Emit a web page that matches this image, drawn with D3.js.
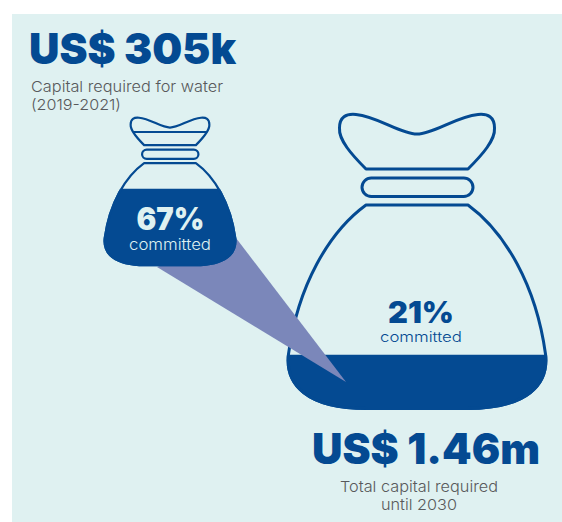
<!DOCTYPE html>
<html lang="en">
<head>
<meta charset="utf-8">
<script src="https://d3js.org/d3.v7.min.js"></script>
<style>
  html, body { margin: 0; padding: 0; background: #fff; }
  svg { display: block; }
  text { font-family: Inter, Roboto, sans-serif; }
</style>
</head>
<body>
<script>
  // values
  const bags = ["water", "total"];
  const amounts = ["US$ 305k", "US$ 1.46m"];
  const committed = ["67%", "21%"];
  const committedLabel = "committed";
  const fillShare = [0.75, 0.27];   // share of the bag body height that is filled
  const captions = [["Capital required for water", "(2019-2021)"], ["Total capital required", "until 2030"]];

  const width = 562, height = 522;
  const blue = "#044a92", wedge = "#7b87ba", panel = "#dff1f1", grey = "#58595b";

  const svg = d3.select("body").append("svg").attr("width", width).attr("height", height);
  svg.append("rect").attr("x", 12).attr("y", 14).attr("width", 550).attr("height", 508).attr("fill", panel);

  // bag outline is drawn once in its own units, each bag maps it with two scales
  const mid = 417;
  const placeX = {
    water: d3.scaleLinear().domain([287, 547]).range([104, 236]),
    total: d3.scaleLinear().domain([287, 547]).range([287, 547])
  };
  const placeY = {
    water: d3.scaleLinear().domain([113, 410]).range([117, 266]),
    total: d3.scaleLinear().domain([113, 410]).range([113, 410])
  };

  // left half beziers, the right half is the mirror
  const earsLeft = [[366,169],[352,155,338.5,140,339.5,128],[339.5,117,346,113.5,356,114.5],[378,116.5,400,134,417,134]];
  const bodyLeft = [[366,205],[329,232,298,285,288.5,354],[285,384,306,408.5,367,408.5],[384,408.5,400,408.5,417,408.5]];

  function halves(left, name) {
    const x = v => placeX[name](v), y = v => placeY[name](v);
    const path = d3.path();
    path.moveTo(x(left[0][0]), y(left[0][1]));
    left.slice(1).forEach(c => path.bezierCurveTo(x(c[0]), y(c[1]), x(c[2]), y(c[3]), x(c[4]), y(c[5])));
    // walk back along the mirror
    for (let i = left.length - 1; i > 0; i--) {
      const c = left[i], prev = left[i - 1];
      const end = prev.length == 2 ? prev : prev.slice(4);
      const m = v => 2 * mid - v;
      path.bezierCurveTo(x(m(c[2])), y(c[3]), x(m(c[0])), y(c[1]), x(m(end[0])), y(end[1]));
    }
    path.closePath();
    return path.toString();
  }

  function drawBag(name, i, sw) {
    const x = placeX[name], y = placeY[name];
    const g = svg.append("g").attr("class", "bag-" + name);
    const body = halves(bodyLeft, name);
    const level = d3.scaleLinear().domain([0, 1]).range([y(410), y(205)]);

    g.append("path").attr("d", body).attr("fill", "none")
      .attr("stroke", blue).attr("stroke-width", sw).attr("stroke-linejoin", "round");
    svg.append("clipPath").attr("id", "clip-" + name).append("rect")
      .attr("x", 0).attr("width", width)
      .attr("y", level(fillShare[i])).attr("height", level(0) - level(fillShare[i]) + 2);
    g.append("path").attr("d", body).attr("fill", blue).attr("stroke", blue).attr("stroke-width", sw)
      .attr("clip-path", "url(#clip-" + name + ")");

    g.append("path").attr("d", halves(earsLeft, name)).attr("fill", "none")
      .attr("stroke", blue).attr("stroke-width", sw).attr("stroke-linejoin", "round");
    g.append("rect")
      .attr("x", x(362)).attr("width", x(473) - x(362))
      .attr("y", y(178)).attr("height", y(196.5) - y(178))
      .attr("rx", y(196.5) / 2 - y(178) / 2)
      .attr("fill", "none").attr("stroke", blue).attr("stroke-width", sw);
    return g;
  }

  // big bag first, wedge goes over it and under the small bag
  drawBag("total", 1, 3);
  svg.append("polygon").attr("points", [[236, 238], [346, 382], [157, 267]].join(" ")).attr("fill", wedge);
  const small = drawBag("water", 0, 2.2);
  small.append("line")
    .attr("x1", 134).attr("x2", 207).attr("y1", 132).attr("y2", 132)
    .attr("stroke", blue).attr("stroke-width", 2);

  function label(str, x, y, size, weight, color, anchor, fit) {
    const t = svg.append("text").attr("x", x).attr("y", y).text(str)
      .attr("font-size", size).attr("font-weight", weight).attr("fill", color)
      .attr("text-anchor", anchor);
    if (fit) t.attr("textLength", fit).attr("lengthAdjust", "spacingAndGlyphs");
    return t;
  }

  label(amounts[0], 29, 64, 43, 900, blue, "start", 207);
  label(amounts[1], 312, 464, 42, 900, blue, "start", 228);
  label(captions[0][0], 31, 92, 15, 300, grey, "start", 192);
  label(captions[0][1], 31, 110, 15, 300, grey, "start", 90);
  label(captions[1][0], 419, 492, 15, 300, grey, "middle", 158);
  label(captions[1][1], 419, 510, 15, 300, grey, "middle", 76);
  label(committed[0], 170.5, 230, 31, 900, panel, "middle", 68);
  label(committedLabel, 170, 250, 15, 300, panel, "middle", 82);
  label(committed[1], 421, 322.5, 30, 900, blue, "middle", 66);
  label(committedLabel, 421, 342, 14.5, 300, blue, "middle", 82);
</script>
</body>
</html>
